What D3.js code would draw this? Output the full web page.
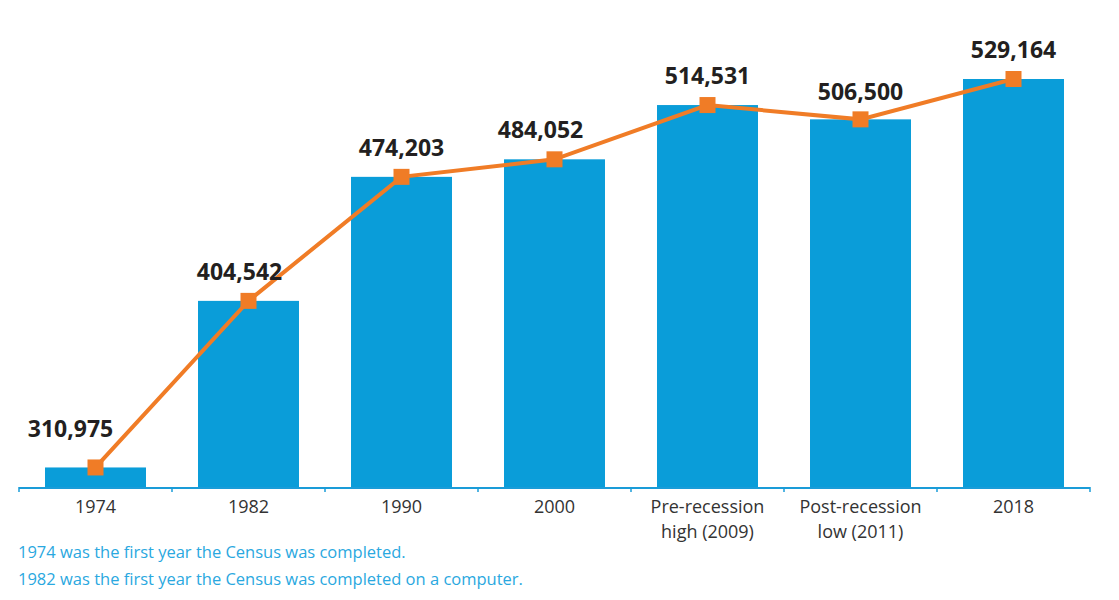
<!DOCTYPE html>
<html><head><meta charset="utf-8">
<script src="https://cdn.jsdelivr.net/npm/d3@7"></script>
<style>
html,body{margin:0;padding:0;background:#fff;}
svg{display:block;}
</style></head>
<body>
<svg id="chart" width="1119" height="600"></svg>
<script>
const categories = ["1974", "1982", "1990", "2000", "Pre-recession\nhigh (2009)", "Post-recession\nlow (2011)", "2018"];
const values = [310975, 404542, 474203, 484052, 514531, 506500, 529164];
const footnotes = [
  "1974 was the first year the Census was completed.",
  "1982 was the first year the Census was completed on a computer."
];

const svg = d3.select("#chart");
const left = 19, right = 1090, baseY = 487;
const barColor = "#0a9dd9", lineColor = "#f07c26", axisColor = "#1a9cd8";

const x = d3.scaleBand().domain(categories).range([left, right]).paddingInner(0.34).paddingOuter(0.17);
const xb = d3.scaleBand().domain(categories).range([left, right]).padding(0);
const y = d3.scaleLinear().domain([300000, 529164]).range([baseY, 79]);

// bars
svg.append("g").selectAll("rect").data(values).join("rect")
  .attr("x", (d, i) => x(categories[i]))
  .attr("width", x.bandwidth())
  .attr("y", d => y(d))
  .attr("height", d => baseY - y(d))
  .attr("fill", barColor);

// axis line & ticks
const ax = svg.append("g");
ax.append("line").attr("x1", left).attr("x2", right).attr("y1", baseY + 1).attr("y2", baseY + 1)
  .attr("stroke", axisColor).attr("stroke-width", 2);
const tickPos = categories.map(c => xb(c)).concat([right]);
ax.selectAll("line.tick").data(tickPos).join("line").attr("class", "tick")
  .attr("x1", d => d).attr("x2", d => d).attr("y1", baseY).attr("y2", baseY + 5)
  .attr("stroke", axisColor).attr("stroke-width", 1.5);

// tick labels
const tl = svg.append("g").attr("font-family", "'Open Sans', sans-serif").attr("font-size", 18)
  .attr("fill", "#333").attr("text-anchor", "middle");
categories.forEach(c => {
  const t = tl.append("text").attr("x", xb(c) + xb.bandwidth() / 2).attr("y", 513);
  c.split("\n").forEach((ln, j) => {
    t.append("tspan").attr("x", xb(c) + xb.bandwidth() / 2).attr("dy", j === 0 ? 0 : 25).text(ln);
  });
});

// line
const line = d3.line().x((d, i) => x(categories[i]) + x.bandwidth() / 2).y(d => y(d));
svg.append("path").datum(values).attr("d", line).attr("fill", "none")
  .attr("stroke", lineColor).attr("stroke-width", 4);

// markers
const ms = 16;
svg.append("g").selectAll("rect").data(values).join("rect")
  .attr("x", (d, i) => x(categories[i]) + x.bandwidth() / 2 - ms / 2)
  .attr("y", d => y(d) - ms / 2)
  .attr("width", ms).attr("height", ms)
  .attr("fill", lineColor);

// value labels
const shiftX = [-25, -9, 0, -14, 0, 0, 0];
const shiftY = [-9, 0, 0, 0, 0, 2, 0];
const fmt = d3.format(",");
svg.append("g").selectAll("text").data(values).join("text")
  .attr("x", (d, i) => x(categories[i]) + x.bandwidth() / 2 + shiftX[i])
  .attr("y", (d, i) => y(d) - 21 + shiftY[i])
  .attr("text-anchor", "middle")
  .attr("font-family", "'Open Sans', sans-serif").attr("font-weight", 700).attr("font-size", 23)
  .attr("fill", "#231f20")
  .text(d => fmt(d));

// footnotes
svg.append("g").selectAll("text").data(footnotes).join("text")
  .attr("x", 18).attr("y", (d, i) => 558 + i * 27)
  .attr("font-family", "'Open Sans', sans-serif").attr("font-size", 16.5)
  .attr("fill", "#2aa8e0")
  .text(d => d);
</script>
</body></html>
